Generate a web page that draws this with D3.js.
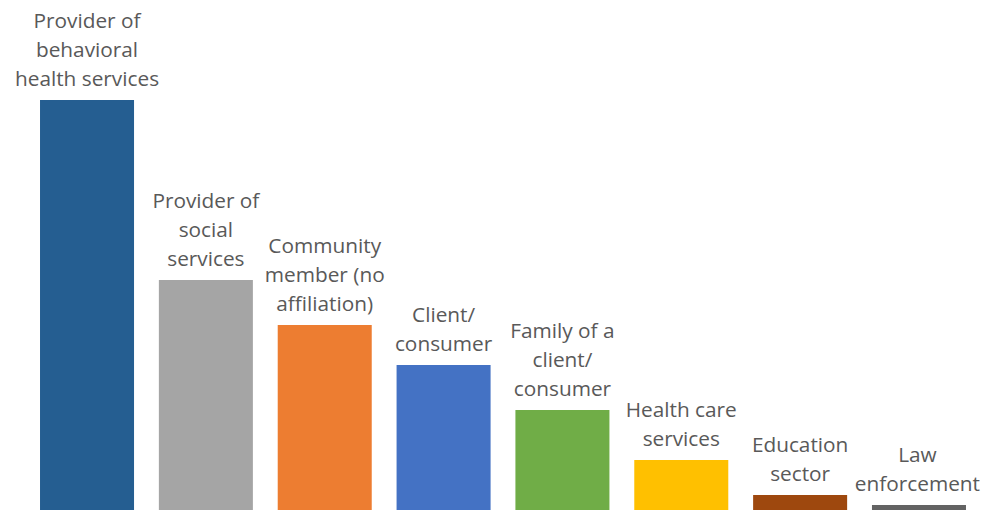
<!DOCTYPE html>
<html>
<head>
<meta charset="utf-8">
<script src="https://cdn.jsdelivr.net/npm/d3@7"></script>
<style>
  body { margin: 0; background: #fff; }
  svg { display: block; }
</style>
</head>
<body>
<svg id="chart"></svg>
<script>
// Data
var categories = [
  ["Provider of", "behavioral", "health services"],
  ["Provider of", "social", "services"],
  ["Community", "member (no", "affiliation)"],
  ["Client/", "consumer"],
  ["Family of a", "client/", "consumer"],
  ["Health care", "services"],
  ["Education", "sector"],
  ["Law", "enforcement"]
];
var values = [82, 46, 37, 29, 20, 10, 3, 1];
var colors = ["#255E91", "#A5A5A5", "#ED7D31", "#4472C4", "#70AD47", "#FFC000", "#9E480E", "#636363"];

var width = 982, height = 510;
var svg = d3.select("#chart").attr("width", width).attr("height", height);

var x = d3.scaleBand()
  .domain(d3.range(values.length))
  .range([27.6, 978.4])
  .paddingInner(0.209)
  .paddingOuter(0.1045);

var y = d3.scaleLinear().domain([0, 82]).range([510, 100]);

svg.selectAll("rect.bar")
  .data(values)
  .enter().append("rect")
  .attr("class", "bar")
  .attr("x", function(d, i) { return x(i); })
  .attr("y", function(d) { return y(d); })
  .attr("width", x.bandwidth())
  .attr("height", function(d) { return y(0) - y(d); })
  .attr("fill", function(d, i) { return colors[i]; });

// labels above the bars
var lineH = 29;
var labels = svg.selectAll("text.lbl")
  .data(categories)
  .enter().append("text")
  .attr("class", "lbl")
  .attr("font-family", "'Open Sans', sans-serif")
  .attr("font-size", "20.8px")
  .attr("fill", "#595959")
  .attr("text-anchor", "middle");

labels.each(function(lines, i) {
  var t = d3.select(this);
  var cx = x(i) + x.bandwidth() / 2;
  var base = y(values[i]) - 14;
  lines.forEach(function(s, k) {
    t.append("tspan")
      .attr("x", cx)
      .attr("y", base - (lines.length - 1 - k) * lineH)
      .text(s);
  });
  // keep the label inside the page
  var bb = this.getBBox();
  var shift = 0;
  if (bb.x < 9) shift = 9 - bb.x;
  if (bb.x + bb.width > width - 2) shift = width - 2 - (bb.x + bb.width);
  if (shift) t.selectAll("tspan").attr("x", cx + shift);
});
</script>
</body>
</html>
